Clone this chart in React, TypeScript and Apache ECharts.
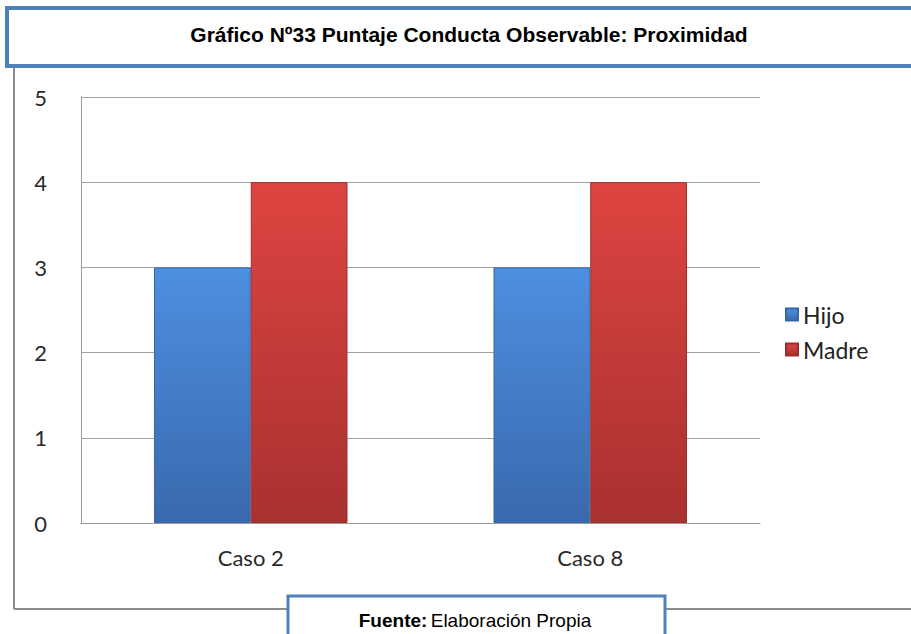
import React, { useEffect, useRef } from "react";
import * as echarts from "echarts";

const categories = ["Caso 2", "Caso 8"];
const seriesNames = ["Hijo", "Madre"];
const hijoValues = [3, 3];
const madreValues = [4, 4];
const yTicks = [0, 1, 2, 3, 4, 5];

const FONT = "Lato, 'Noto Sans', sans-serif";
const ARIAL = "'Liberation Sans', Arial, sans-serif";

export default function App() {
  const ref = useRef<HTMLDivElement>(null);
  useEffect(() => {
    if (!ref.current) return;
    const chart = echarts.init(ref.current, null, { renderer: "svg" });
    const blueGrad = new echarts.graphic.LinearGradient(0, 0, 0, 1, [
      { offset: 0, color: "#4d8fe0" },
      { offset: 1, color: "#3a69ad" },
    ]);
    const redGrad = new echarts.graphic.LinearGradient(0, 0, 0, 1, [
      { offset: 0, color: "#de4441" },
      { offset: 1, color: "#a8312f" },
    ]);
    chart.setOption({
      animation: false,
      backgroundColor: "#ffffff",
      grid: { left: 81, right: 151, top: 97, bottom: 111, containLabel: false },
      legend: {
        orient: "vertical",
        left: 780,
        top: 298,
        itemWidth: 12,
        itemHeight: 12,
        itemGap: 12,
        icon: "rect",
        textStyle: { fontFamily: FONT, fontSize: 23, color: "#222" },
        data: seriesNames,
      },
      xAxis: {
        type: "category",
        data: categories,
        axisLine: { lineStyle: { color: "#999", width: 1 } },
        axisTick: { show: false },
        axisLabel: { fontFamily: FONT, fontSize: 22, color: "#2a2a2a", margin: 23 },
      },
      yAxis: {
        type: "value",
        min: yTicks[0],
        max: yTicks[yTicks.length - 1],
        interval: 1,
        axisLine: { show: true, lineStyle: { color: "#999", width: 1 } },
        axisTick: { show: false },
        splitLine: { lineStyle: { color: "#a0a0a0", width: 1 } },
        axisLabel: { fontFamily: FONT, fontSize: 22, color: "#2a2a2a", margin: 34 },
      },
      series: [
        {
          name: seriesNames[0],
          type: "bar",
          data: hijoValues,
          barGap: "0%",
          barCategoryGap: "43%",
          itemStyle: { color: blueGrad, borderColor: "#3767a8", borderWidth: 1 },
        },
        {
          name: seriesNames[1],
          type: "bar",
          data: madreValues,
          itemStyle: { color: redGrad, borderColor: "#9b2e2c", borderWidth: 1 },
        },
      ],
      graphic: [
        { type: "line", shape: { x1: 14, y1: 64, x2: 14, y2: 609 }, style: { stroke: "#8c8c8c", lineWidth: 2 } },
        { type: "line", shape: { x1: 14, y1: 609, x2: 911, y2: 609 }, style: { stroke: "#8c8c8c", lineWidth: 2 } },
        {
          type: "rect",
          shape: { x: 7, y: 8, width: 910, height: 58 },
          style: { fill: "#ffffff", stroke: "#4f81bd", lineWidth: 4 },
        },
        {
          type: "text",
          x: 469,
          y: 34,
          style: {
            text: "Gráfico Nº33 Puntaje Conducta Observable: Proximidad",
            fontFamily: ARIAL,
            fontWeight: "bold",
            fontSize: 21,
            fill: "#000",
            align: "center",
            verticalAlign: "middle",
          },
        },
        {
          type: "rect",
          shape: { x: 288, y: 596, width: 377, height: 50 },
          style: { fill: "#ffffff", stroke: "#4f81bd", lineWidth: 3 },
        },
        {
          type: "text",
          x: 475,
          y: 620,
          style: {
            text: "{b|Fuente:} {r|Elaboración Propia}",
            align: "center",
            verticalAlign: "middle",
            rich: {
              b: { fontFamily: ARIAL, fontWeight: "bold", fontSize: 19, fill: "#000" },
              r: { fontFamily: ARIAL, fontSize: 19, fill: "#000" },
            },
          },
        },
      ],
    });
    return () => chart.dispose();
  }, []);
  return (
    <div
      ref={ref}
      style={{ position: "fixed", left: 0, top: 0, width: 911, height: 634 }}
    />
  );
}
